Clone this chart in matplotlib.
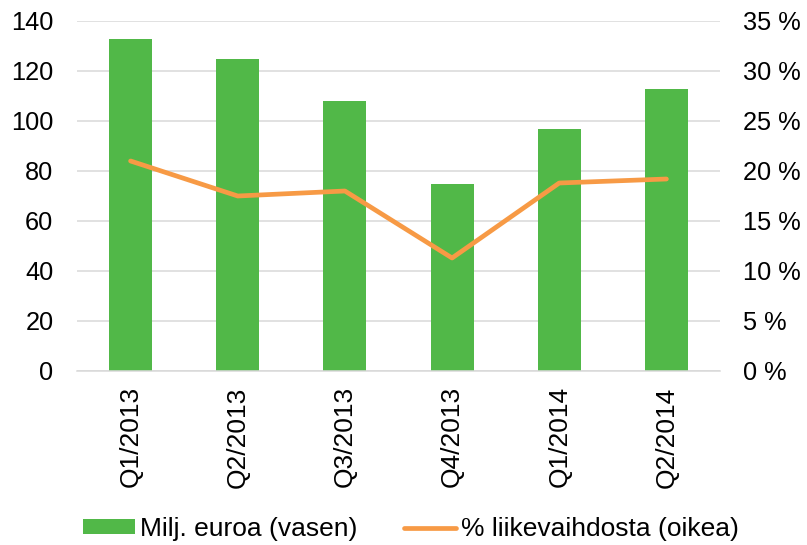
import matplotlib
matplotlib.use("Agg")
import matplotlib.pyplot as plt
from matplotlib.ticker import FuncFormatter
from matplotlib.patches import Patch
from matplotlib.lines import Line2D

categories = ["Q1/2013", "Q2/2013", "Q3/2013", "Q4/2013", "Q1/2014", "Q2/2014"]
bar_values = [133, 125, 108, 75, 97, 113]
line_values = [21.0, 17.5, 18.0, 11.3, 18.8, 19.2]
bar_label = "Milj. euroa (vasen)"
line_label = "% liikevaihdosta (oikea)"

GREEN = "#51b848"
ORANGE = "#f79a45"
GRID = "#d9d9d9"
FS = 18.3
FS_X = 19
FS_LEG = 19

plt.rcParams['font.family'] = ['Liberation Sans', 'DejaVu Sans']

fig = plt.figure(figsize=(8.07, 5.45), dpi=100)
ax = fig.add_axes([77/807, 1-371/545, (720-77)/807, 350/545])
x = list(range(len(categories)))
ax.bar(x, bar_values, width=0.4, color=GREEN, zorder=2)
ax.set_xlim(-0.5, len(categories)-0.5)
ax.set_ylim(0, 140)
ax.set_yticks(range(0, 141, 20))
ax.grid(axis='y', color=GRID, linewidth=1.1, zorder=0)
ax.set_axisbelow(True)
for s in ['top', 'right', 'left']:
    ax.spines[s].set_visible(False)
ax.spines['bottom'].set_color(GRID)
ax.spines['bottom'].set_linewidth(1.1)
ax.tick_params(axis='both', length=0, labelsize=FS)
ax.tick_params(axis='y', pad=17)
ax.tick_params(axis='x', pad=11, labelsize=FS_X)
ax.set_xticks(x)
ax.set_xticklabels(categories, rotation=90)

ax2 = ax.twinx()
ax2.plot(x, line_values, color=ORANGE, linewidth=3.4, solid_capstyle='round', solid_joinstyle='round', zorder=3)
ax2.set_ylim(0, 35)
ax2.set_yticks(range(0, 36, 5))
ax2.yaxis.set_major_formatter(FuncFormatter(lambda v, p: f"{int(v)} %"))
for s in ['top', 'right', 'left', 'bottom']:
    ax2.spines[s].set_visible(False)
ax2.tick_params(axis='y', length=0, labelsize=FS, pad=16.5)

handles = [Patch(facecolor=GREEN, edgecolor='none'),
           Line2D([0], [0], color=ORANGE, linewidth=3.4, solid_capstyle='round')]
fig.legend(handles, [bar_label, line_label], loc='center', bbox_to_anchor=(411/807, 1-529/545),
           ncol=2, frameon=False, fontsize=FS_LEG, handlelength=1.98, handleheight=0.48,
           handletextpad=0.2, columnspacing=1.75, borderaxespad=0)

fig.savefig("out.png", dpi=100)
